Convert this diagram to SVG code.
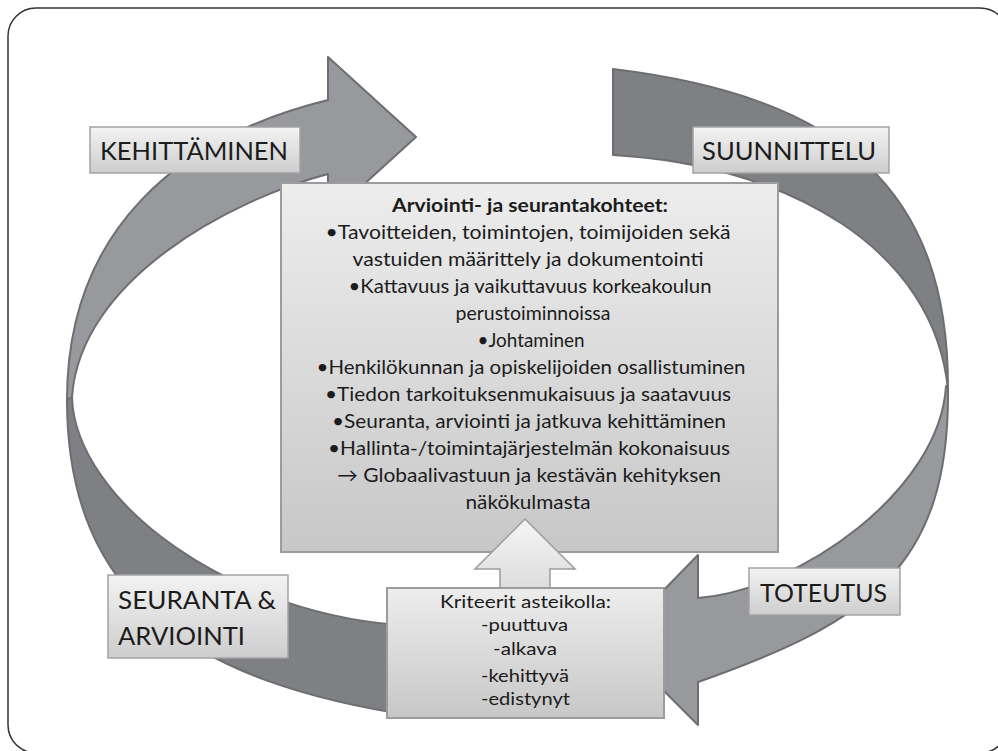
<svg xmlns="http://www.w3.org/2000/svg" width="998" height="751" viewBox="0 0 998 751">
  <defs>
    <linearGradient id="gLabel" x1="0" y1="0" x2="0" y2="1">
      <stop offset="0" stop-color="#f3f3f3"/>
      <stop offset="1" stop-color="#cdcdce"/>
    </linearGradient>
    <linearGradient id="gBox" x1="0" y1="0" x2="0" y2="1">
      <stop offset="0" stop-color="#ededed"/>
      <stop offset="1" stop-color="#c7c7c8"/>
    </linearGradient>
    <linearGradient id="gUp" x1="0" y1="0" x2="0" y2="1">
      <stop offset="0" stop-color="#f5f5f5"/>
      <stop offset="1" stop-color="#dcdcdc"/>
    </linearGradient>
    <style>
      .frame { fill: none; stroke: #333333; stroke-width: 1.5; }
      .band-light { fill: #98999d; stroke: #6d6e71; stroke-width: 2; stroke-linejoin: round; }
      .band-dark { fill: #7f8083; stroke: #6d6e71; stroke-width: 2; stroke-linejoin: round; }
      .label { fill: url(#gLabel); stroke: #a3a3a4; stroke-width: 1.5; }
      .box { fill: url(#gBox); stroke: #9c9c9d; stroke-width: 2; }
      .up { fill: url(#gUp); stroke: #9c9c9d; stroke-width: 1.5; }
      .lbl { font-family: Lato, "Open Sans", "Liberation Sans", sans-serif; font-size: 25px; fill: #1c1c1c; }
      .txt { font-family: Lato, "Open Sans", "Liberation Sans", sans-serif; font-size: 19px; fill: #1c1c1c; text-anchor: middle; }
      .ttl { font-weight: bold; }
      .crit { font-family: Lato, "Open Sans", "Liberation Sans", sans-serif; font-size: 18px; fill: #1c1c1c; text-anchor: middle; }
    </style>
  </defs>

  <rect class="frame" x="8" y="8" width="1000" height="745" rx="28" ry="28"/>

  <!-- cycle bands -->
  <g id="connectors">
    <path id="arrow-kehittaminen" class="band-light" d="M 67 400 C 67 230 178 137 328 100 L 328 57 L 416 137 L 328 217 L 328 174 C 230 200 80 280 72 397 Z"/>
    <path id="band-suunnittelu" class="band-dark" d="M 613 69 C 843 97 949 190 948 390 C 935 250 790 165 613 155 Z"/>
    <path id="arrow-toteutus" class="band-light" d="M 948 388 C 950 568 868 622 698 682 L 698 725 L 614 641 L 698 555 L 698 598 C 800 590 940 490 946 386 Z"/>
    <path id="band-seuranta" class="band-dark" d="M 67 400 C 67 600 195 683 415 716 L 415 626 C 230 618 75 500 72 397 Z"/>
  </g>

  <!-- phase labels -->
  <g id="kehittaminen">
    <rect class="label" x="90" y="127" width="210" height="46"/>
    <text class="lbl" x="100" y="160" textLength="188" lengthAdjust="spacingAndGlyphs">KEHITTÄMINEN</text>
  </g>
  <g id="suunnittelu">
    <rect class="label" x="693" y="127" width="196" height="46"/>
    <text class="lbl" x="702" y="160" textLength="174" lengthAdjust="spacingAndGlyphs">SUUNNITTELU</text>
  </g>
  <g id="toteutus">
    <rect class="label" x="749" y="568" width="151" height="47"/>
    <text class="lbl" x="760" y="602" textLength="127" lengthAdjust="spacingAndGlyphs">TOTEUTUS</text>
  </g>
  <g id="seuranta-arviointi">
    <rect class="label" x="108" y="575" width="180" height="83"/>
    <text class="lbl" x="118" y="609" textLength="158" lengthAdjust="spacingAndGlyphs">SEURANTA &amp;</text>
    <text class="lbl" x="118" y="645" textLength="127" lengthAdjust="spacingAndGlyphs">ARVIOINTI</text>
  </g>

  <!-- evaluation targets -->
  <g id="kohteet">
    <rect class="box" x="281" y="183" width="497" height="369"/>
    <text class="txt ttl" x="530" y="212" textLength="276" lengthAdjust="spacingAndGlyphs">Arviointi- ja seurantakohteet:</text>
    <text class="txt" x="528" y="239" textLength="405" lengthAdjust="spacingAndGlyphs">•Tavoitteiden, toimintojen, toimijoiden sekä</text>
    <text class="txt" x="528" y="266" textLength="351" lengthAdjust="spacingAndGlyphs">vastuiden määrittely ja dokumentointi</text>
    <text class="txt" x="530" y="293" textLength="363" lengthAdjust="spacingAndGlyphs">•Kattavuus ja vaikuttavuus korkeakoulun</text>
    <text class="txt" x="533" y="320" textLength="155" lengthAdjust="spacingAndGlyphs">perustoiminnoissa</text>
    <text class="txt" x="531" y="347" textLength="107" lengthAdjust="spacingAndGlyphs">•Johtaminen</text>
    <text class="txt" x="531" y="374" textLength="429" lengthAdjust="spacingAndGlyphs">•Henkilökunnan ja opiskelijoiden osallistuminen</text>
    <text class="txt" x="528" y="401" textLength="406" lengthAdjust="spacingAndGlyphs">•Tiedon tarkoituksenmukaisuus ja saatavuus</text>
    <text class="txt" x="529" y="428" textLength="394" lengthAdjust="spacingAndGlyphs">•Seuranta, arviointi ja jatkuva kehittäminen</text>
    <text class="txt" x="529" y="455" textLength="402" lengthAdjust="spacingAndGlyphs">•Hallinta-/toimintajärjestelmän kokonaisuus</text>
    <text class="txt" x="529" y="482" textLength="384" lengthAdjust="spacingAndGlyphs">→ Globaalivastuun ja kestävän kehityksen</text>
    <text class="txt" x="528" y="509" textLength="125" lengthAdjust="spacingAndGlyphs">näkökulmasta</text>
  </g>

  <!-- upward block arrow -->
  <g id="nuoli-ylos">
    <path class="up" d="M 525 519 L 575 569 L 550 569 L 550 590 L 500 590 L 500 569 L 475 569 Z"/>
  </g>

  <!-- criteria scale -->
  <g id="kriteerit">
    <rect class="box" x="387" y="588" width="277" height="130"/>
    <text class="crit" x="525.5" y="608" textLength="171" lengthAdjust="spacingAndGlyphs">Kriteerit asteikolla:</text>
    <text class="crit" x="524.5" y="631" textLength="87" lengthAdjust="spacingAndGlyphs">-puuttuva</text>
    <text class="crit" x="525" y="655" textLength="64" lengthAdjust="spacingAndGlyphs">-alkava</text>
    <text class="crit" x="525" y="682" textLength="88" lengthAdjust="spacingAndGlyphs">-kehittyvä</text>
    <text class="crit" x="525.5" y="705" textLength="89" lengthAdjust="spacingAndGlyphs">-edistynyt</text>
  </g>
</svg>
